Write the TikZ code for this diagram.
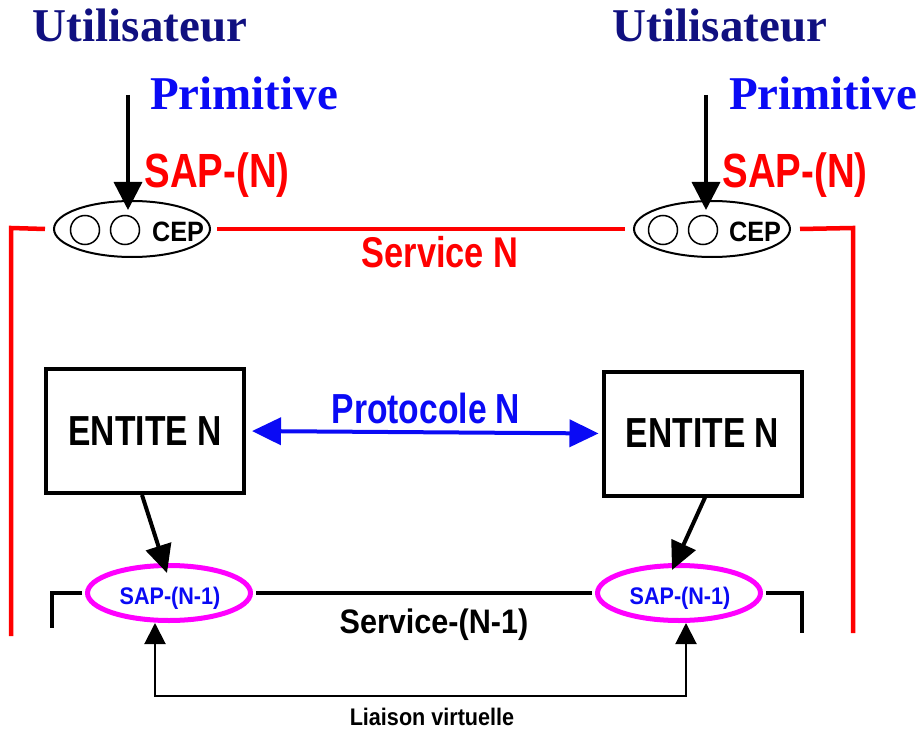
\documentclass[tikz,border=0pt]{standalone}
\usepackage{fontspec}
\setmainfont{Liberation Serif}
\newfontfamily\narfont[FakeStretch=0.8]{Liberation Sans}
\newfontfamily\narbfont[FakeStretch=0.9]{Liberation Sans}
\usetikzlibrary{arrows.meta,shapes.geometric}
\definecolor{navyc}{RGB}{16,16,128}
\definecolor{bluec}{RGB}{10,10,245}
\definecolor{redc}{RGB}{255,0,0}
\definecolor{magc}{RGB}{255,0,255}
\newcommand\myfs[1]{\fontsize{#1}{#1}\selectfont}
\tikzset{
  lbl/.style={inner sep=0pt, anchor=base},
  usertxt/.style={lbl, text=navyc, font=\rmfamily\bfseries\myfs{47}},
  primtxt/.style={lbl, text=bluec, font=\rmfamily\bfseries\myfs{47}},
  saptxt/.style={lbl, text=redc, font=\narfont\bfseries\myfs{48}},
  cepbox/.style={draw, ellipse, line width=2pt, minimum width=156pt, minimum height=56pt, inner sep=0pt},
  cepdot/.style={draw, circle, line width=1.5pt, minimum size=29pt, inner sep=0pt},
  ceptxt/.style={lbl, font=\narbfont\bfseries\myfs{28}},
  redline/.style={draw=redc, line width=4.5pt},
  bigarrow/.style={draw, line width=3.5pt, -{Triangle[length=28pt, width=28pt]}},
  entbox/.style={draw, line width=4pt, minimum width=198pt, minimum height=124pt, inner sep=0pt, font=\narfont\bfseries\myfs{42}},
  protarrow/.style={draw=bluec, line width=4pt, {Triangle[length=29pt, width=27pt]}-{Triangle[length=29pt, width=27pt]}},
  downarrow/.style={draw, line width=4pt, -{Triangle[length=28pt, width=26pt]}},
  sapbox/.style={draw=magc, ellipse, line width=5pt, minimum width=163pt, minimum height=55pt, inner sep=0pt},
  sapsmall/.style={lbl, text=bluec, font=\narbfont\bfseries\myfs{24}},
  blackline/.style={draw, line width=4.5pt},
  liaison/.style={draw, line width=2pt, {Triangle[length=21pt, width=21pt]}-{Triangle[length=21pt, width=21pt]}},
}
\begin{document}
\begin{tikzpicture}[x=1pt, y=-1pt]
\useasboundingbox (0,0) rectangle (921,730);

% top texts
\node[usertxt] (userL) at (140,42) {Utilisateur};
\node[usertxt] (userR) at (720,42) {Utilisateur};
\node[primtxt] (primL) at (244,110) {Primitive};
\node[primtxt] (primR) at (823,110) {Primitive};
\node[saptxt] (sapNL) at (217,188) {SAP-(N)};
\node[saptxt] (sapNR) at (795,188) {SAP-(N)};

% CEP ellipses
\node[cepbox] (cepL) at (132,229) {};
\node[cepbox] (cepR) at (712,229) {};
\node[cepdot] (dL1) at (85,230) {};
\node[cepdot] (dL2) at (125,230) {};
\node[cepdot] (dR1) at (663,230) {};
\node[cepdot] (dR2) at (703,230) {};
\node[ceptxt] (cepTL) at (178,242) {CEP};
\node[ceptxt] (cepTR) at (755,242) {CEP};

% primitive arrows
\coordinate (aL) at (128,95);
\coordinate (aR) at (706,95);
\draw[bigarrow] (aL) -- ([yshift=-10pt]aL |- cepL.north);
\draw[bigarrow] (aR) -- ([yshift=-10pt]aR |- cepR.north);

% Service N red line
\coordinate (rTL) at (11,228);
\coordinate (rBL) at (11,636);
\coordinate (rTR) at (853,228);
\coordinate (rBR) at (853,633);
\draw[redline] ([xshift=-8pt]cepL.west) -- (rTL) -- (rBL);
\draw[redline] ([xshift=6pt]cepL.east) -- ([xshift=-8pt]cepR.west);
\draw[redline] ([xshift=9pt]cepR.east) -- (rTR) -- (rBR);
\node[lbl, text=redc, font=\narfont\bfseries\myfs{43}] (servN) at (440,268) {Service N};

% entities
\node[entbox] (entL) at (145,431) {\raisebox{-4pt}{ENTITE N}};
\node[entbox] (entR) at (702.5,433.5) {\raisebox{-4pt}{ENTITE N}};
\draw[protarrow, shorten <=6pt, shorten >=3pt] (entL.east) -- (entR.west);
\node[lbl, text=bluec, font=\narfont\bfseries\myfs{42}] (proto) at (426,423) {Protocole N};

% SAP-(N-1)
\node[sapbox] (sapL) at (169,593) {};
\node[sapbox] (sapR) at (679,593) {};
\node[sapsmall] (sapTL) at (170,604) {SAP-(N-1)};
\node[sapsmall] (sapTR) at (680,604) {SAP-(N-1)};
\draw[downarrow] ([xshift=-3pt]entL.south) -- ([xshift=-2pt,yshift=-10pt]sapL.north);
\draw[downarrow] ([xshift=2.5pt]entR.south) -- ([xshift=-7pt,yshift=-7pt]sapR.north);

% Service-(N-1) line
\coordinate (bTL) at (52,593);
\coordinate (bBL) at (52,628);
\coordinate (bTR) at (802,593);
\coordinate (bBR) at (802,633);
\draw[blackline] ([xshift=-3pt]sapL.west) -- (bTL) -- (bBL);
\draw[blackline] ([xshift=3pt]sapL.east) -- ([xshift=-3pt]sapR.west);
\draw[blackline] ([xshift=3pt]sapR.east) -- (bTR) -- (bBR);
\node[lbl, font=\narbfont\bfseries\myfs{34}] (servN1) at (434,633) {Service-(N-1)};

% liaison virtuelle
\coordinate (lL) at (155,696);
\coordinate (lR) at (686,696);
\draw[liaison] (lL |- sapL.south) -- (lL) -- (lR) -- (lR |- sapR.south);
\node[lbl, font=\narbfont\bfseries\myfs{24}] (liais) at (432,725) {Liaison virtuelle};
\end{tikzpicture}
\end{document}
